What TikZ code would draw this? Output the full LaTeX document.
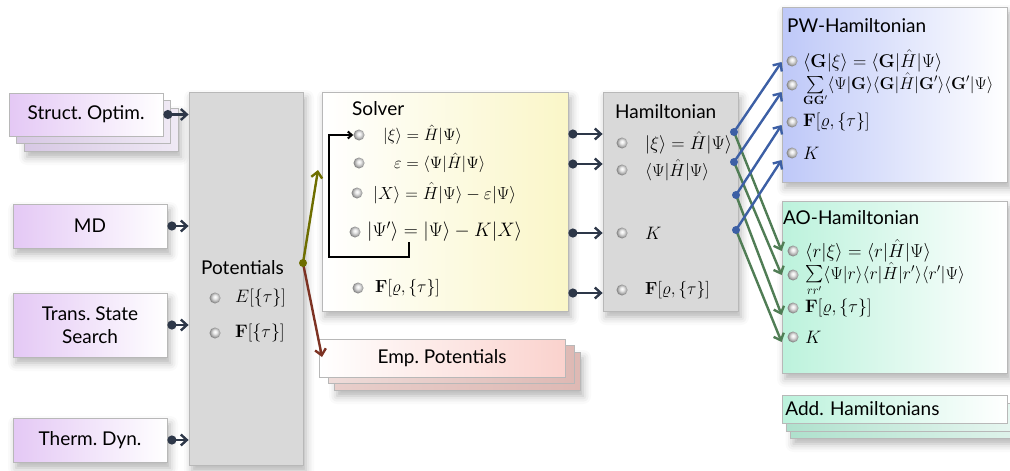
\RequirePackage{fix-cm}
\documentclass[tikz,border=0pt]{standalone}
\usepackage{amsmath}
\usepackage[no-math]{fontspec}
\newfontfamily\gill{Lato}
\usetikzlibrary{arrows.meta,shadows.blur}
\definecolor{arrowc}{RGB}{45,55,72}
\definecolor{olivec}{RGB}{110,110,0}
\definecolor{brownc}{RGB}{125,50,35}
\definecolor{bluec}{RGB}{60,95,165}
\definecolor{greenc}{RGB}{80,125,85}
\definecolor{lav}{RGB}{228,200,245}
\definecolor{lavd}{RGB}{215,200,228}
\definecolor{potg}{RGB}{217,217,217}
\definecolor{solv}{RGB}{250,246,200}
\definecolor{pinkc}{RGB}{250,210,205}
\definecolor{pinkd}{RGB}{222,185,180}
\definecolor{pwc}{RGB}{190,200,248}
\definecolor{aoc}{RGB}{188,242,220}
\definecolor{aod}{RGB}{175,225,205}
\pgfdeclareradialshading{bulb}{\pgfpoint{0bp}{6bp}}{color(0bp)=(white); color(8bp)=(white!92!black); color(18bp)=(black!30); color(25bp)=(black!50); color(50bp)=(black!50)}
\begin{document}
\frenchspacing
\begin{tikzpicture}[x=1pt,y=-1pt,
  lbl/.style={font=\gill\frenchspacing\fontsize{19}{23}\selectfont, text=black},
  mth/.style={font=\fontsize{16.5}{19}\selectfont, inner sep=0pt, anchor=west},
  box/.style={draw=black!28, line width=0.8pt, rectangle, inner sep=0pt},
  shd/.style={blur shadow={shadow xshift=3pt, shadow yshift=-6pt, shadow blur radius=8pt, shadow opacity=30}},
  purp/.style={left color=lav, right color=white},
  purpd/.style={left color=lavd, right color=lavd!40},
  bul/.style={circle, inner sep=0pt, minimum size=11pt, shade, shading=bulb},
  dot/.style={circle, fill=#1, inner sep=0pt, minimum size=8pt},
  conn/.style={line width=2.4pt, draw=arrowc, {Circle[length=9pt]}-{Straight Barb[length=6pt,width=11pt]}},
  col/.style={line width=2.4pt, draw=#1, -{Straight Barb[length=6pt,width=11pt]}},
]
\useasboundingbox (0,0) rectangle (1010,471);

% ---- left boxes ----
\node[box, purpd, shd, minimum width=154pt, minimum height=43pt] (so3) at (101,129.5) {};
\node[box, purpd, minimum width=154pt, minimum height=43pt] (so2) at (93,121.5) {};
\node[box, purp, lbl, minimum width=154pt, minimum height=43pt] (so) at (86,114.5) {Struct. Optim.};
\node[box, purp, shd, lbl, minimum width=154pt, minimum height=44pt] (md) at (90,226) {MD};
\node[box, purp, shd, lbl, minimum width=154pt, minimum height=64pt, align=center] (tss) at (90,325) {Trans. State\\Search};
\node[box, purp, shd, lbl, minimum width=154pt, minimum height=44pt] (td) at (90,440) {Therm. Dyn.};

% ---- potentials ----
\node[box, fill=potg, shd, minimum width=114pt, minimum height=373pt] (pot) at (246,278.5) {};
\node[lbl, anchor=west, inner sep=0pt] (potl) at (201,268) {Potentials};
\node[bul] (pb1) at (215,298) {};
\node[mth, font=\fontsize{18}{20}\selectfont] (pt1) at (235,298) {$E[\{\tau\}]$};
\node[bul] (pb2) at (215,333) {};
\node[mth, font=\fontsize{18}{20}\selectfont] (pt2) at (235,333) {$\mathbf{F}[\{\tau\}]$};

% ---- solver ----
\node[box, left color=white, right color=solv, shd, minimum width=246pt, minimum height=219pt] (sol) at (445,201.5) {};
\node[lbl, anchor=west, inner sep=0pt] (soll) at (352,109) {Solver};
\node[bul] (sb1) at (359,135) {};
\node[mth] (st1) at (383,135) {$|\xi\rangle = \hat{H}|\Psi\rangle$};
\node[bul] (sb2) at (359,163) {};
\node[mth] (st2) at (394,163) {$\varepsilon = \langle\Psi|\hat{H}|\Psi\rangle$};
\node[bul] (sb3) at (357,193) {};
\node[mth, font=\fontsize{17.5}{20}\selectfont] (st3) at (373,193) {$|X\rangle = \hat{H}|\Psi\rangle - \varepsilon|\Psi\rangle$};
\node[bul] (sb4) at (355,232) {};
\node[mth, font=\fontsize{19.5}{22}\selectfont] (st4) at (367,232) {$|\Psi'\rangle = |\Psi\rangle - K|X\rangle$};
\node[bul] (sb5) at (358,288) {};
\node[mth, font=\fontsize{17.5}{20}\selectfont] (st5) at (375,288) {$\mathbf{F}[\varrho,\{\tau\}]$};
\coordinate (lp) at (409,242);
\draw[line width=2pt, -{Straight Barb[length=4pt,width=7pt]}] (lp) -- (409,257) -- (329,257) -- (329,135) -- (sb1.west);

% ---- emp potentials ----
\node[box, left color=pinkd!70, right color=pinkd, shd, minimum width=246pt, minimum height=38pt] (emp3) at (457,371) {};
\node[box, left color=pinkd!50, right color=pinkd, minimum width=246pt, minimum height=38pt] (emp2) at (451,364) {};
\node[box, left color=white, right color=pinkc, lbl, minimum width=246pt, minimum height=38pt] (emp) at (442,358) {Emp. Potentials};

% ---- hamiltonian ----
\node[box, fill=potg, shd, minimum width=135pt, minimum height=219pt] (ham) at (670.5,201.5) {};
\node[lbl, anchor=west, inner sep=0pt] (haml) at (615,112) {Hamiltonian};
\node[bul] (hb1) at (622,143) {};
\node[mth, font=\fontsize{18.5}{21}\selectfont] (ht1) at (645,143) {$|\xi\rangle = \hat{H}|\Psi\rangle$};
\node[bul] (hb2) at (622,170) {};
\node[mth, font=\fontsize{17.5}{20}\selectfont] (ht2) at (645,170) {$\langle\Psi|\hat{H}|\Psi\rangle$};
\node[bul] (hb3) at (622,233) {};
\node[mth, font=\fontsize{18}{20}\selectfont] (ht3) at (645,233) {$K$};
\node[bul] (hb4) at (622,290) {};
\node[mth, font=\fontsize{17.5}{20}\selectfont] (ht4) at (645,290) {$\mathbf{F}[\varrho,\{\tau\}]$};

% ---- PW ----
\node[box, left color=pwc, right color=white, shd, minimum width=225pt, minimum height=175pt] (pw) at (894.5,94.5) {};
\node[lbl, anchor=west, inner sep=0pt] (pwl) at (787,26) {PW-Hamiltonian};
\node[bul] (wb1) at (792,61) {};
\node[mth, font=\fontsize{18.5}{20}\selectfont] (wt1) at (803,61) {$\langle\mathbf{G}|\xi\rangle = \langle\mathbf{G}|\hat{H}|\Psi\rangle$};
\node[bul] (wb2) at (792,85) {};
\node[mth, font=\fontsize{17}{19}\selectfont, anchor=base west] (wt2) at (803,89) {$\sum\limits_{\mathbf{G}\mathbf{G}'}\langle\Psi|\mathbf{G}\rangle\langle\mathbf{G}|\hat{H}|\mathbf{G}'\rangle\langle\mathbf{G}'|\Psi\rangle$};
\node[bul] (wb3) at (792,122) {};
\node[mth, font=\fontsize{18}{20}\selectfont] (wt3) at (803,122) {$\mathbf{F}[\varrho,\{\tau\}]$};
\node[bul] (wb4) at (792,153) {};
\node[mth, font=\fontsize{18}{20}\selectfont] (wt4) at (803,153) {$K$};

% ---- AO ----
\node[box, left color=aoc, right color=white, shd, minimum width=225pt, minimum height=172pt] (ao) at (894.5,287) {};
\node[lbl, anchor=west, inner sep=0pt] (aol) at (783,218) {AO-Hamiltonian};
\node[bul] (ab1) at (793,251) {};
\node[mth, font=\fontsize{18.8}{20}\selectfont] (at1) at (805,251) {$\langle r|\xi\rangle = \langle r|\hat{H}|\Psi\rangle$};
\node[bul] (ab2) at (793,275) {};
\node[mth, font=\fontsize{17.5}{20}\selectfont, anchor=base west] (at2) at (805,279) {$\sum\limits_{rr'}\langle\Psi|r\rangle\langle r|\hat{H}|r'\rangle\langle r'|\Psi\rangle$};
\node[bul] (ab3) at (793,308) {};
\node[mth, font=\fontsize{18}{20}\selectfont] (at3) at (805,308) {$\mathbf{F}[\varrho,\{\tau\}]$};
\node[bul] (ab4) at (793,337) {};
\node[mth, font=\fontsize{18}{20}\selectfont] (at4) at (805,337) {$K$};

% ---- Add. Hamiltonians ----
\node[box, left color=aod, right color=aod!40, shd, minimum width=225pt, minimum height=28pt] (add3) at (903,424) {};
\node[box, left color=aod, right color=aod!30, minimum width=225pt, minimum height=28pt] (add2) at (899,417) {};
\node[box, left color=aoc, right color=white, lbl, minimum width=225pt, minimum height=28pt, anchor=west, text width=219pt, align=left] (add) at (782,409) {Add. Hamiltonians};

% ---- connectors: inputs ----
\draw[conn] (so.east) -- (so.east -| pot.west);
\draw[conn] (md.east) -- (md.east -| pot.west);
\draw[conn] (tss.east) -- (tss.east -| pot.west);
\draw[conn] (td.east) -- (td.east -| pot.west);

% ---- potentials outputs ----
\coordinate (pd) at (303,263);
\coordinate (oe) at (318,170);
\coordinate (be) at (322,357);
\draw[col=olivec] (pd) -- (oe);
\draw[col=brownc] (pd) -- (be);
\node[dot=olivec] (pdot) at (pd) {};

% ---- solver -> hamiltonian ----
\foreach \yy in {134,164,233,293}{
  \draw[conn] (sol.east |- 0,\yy) -- (ham.west |- 0,\yy);
}

% ---- hamiltonian -> PW / AO ----
\coordinate (h1) at (734,132);
\coordinate (h2) at (734,162);
\coordinate (h3) at (736,195);
\coordinate (h4) at (736,230);
\draw[col=greenc] (h1) -- (pw.west |- ab1);
\draw[col=greenc] (h2) -- (pw.west |- ab2);
\draw[col=greenc] (h3) -- (pw.west |- 0,315);
\draw[col=greenc] (h4) -- (pw.west |- 0,342);
\draw[col=bluec] (h1) -- (pw.west |- 0,62);
\draw[col=bluec] (h2) -- (pw.west |- 0,92);
\draw[col=bluec] (h3) -- (pw.west |- 0,125);
\draw[col=bluec] (h4) -- (pw.west |- 0,160);
\node[dot=bluec] (hd1) at (h1) {};
\node[dot=bluec] (hd2) at (h2) {};
\node[dot=bluec] (hd3) at (h3) {};
\node[dot=bluec] (hd4) at (h4) {};
\end{tikzpicture}
\end{document}
